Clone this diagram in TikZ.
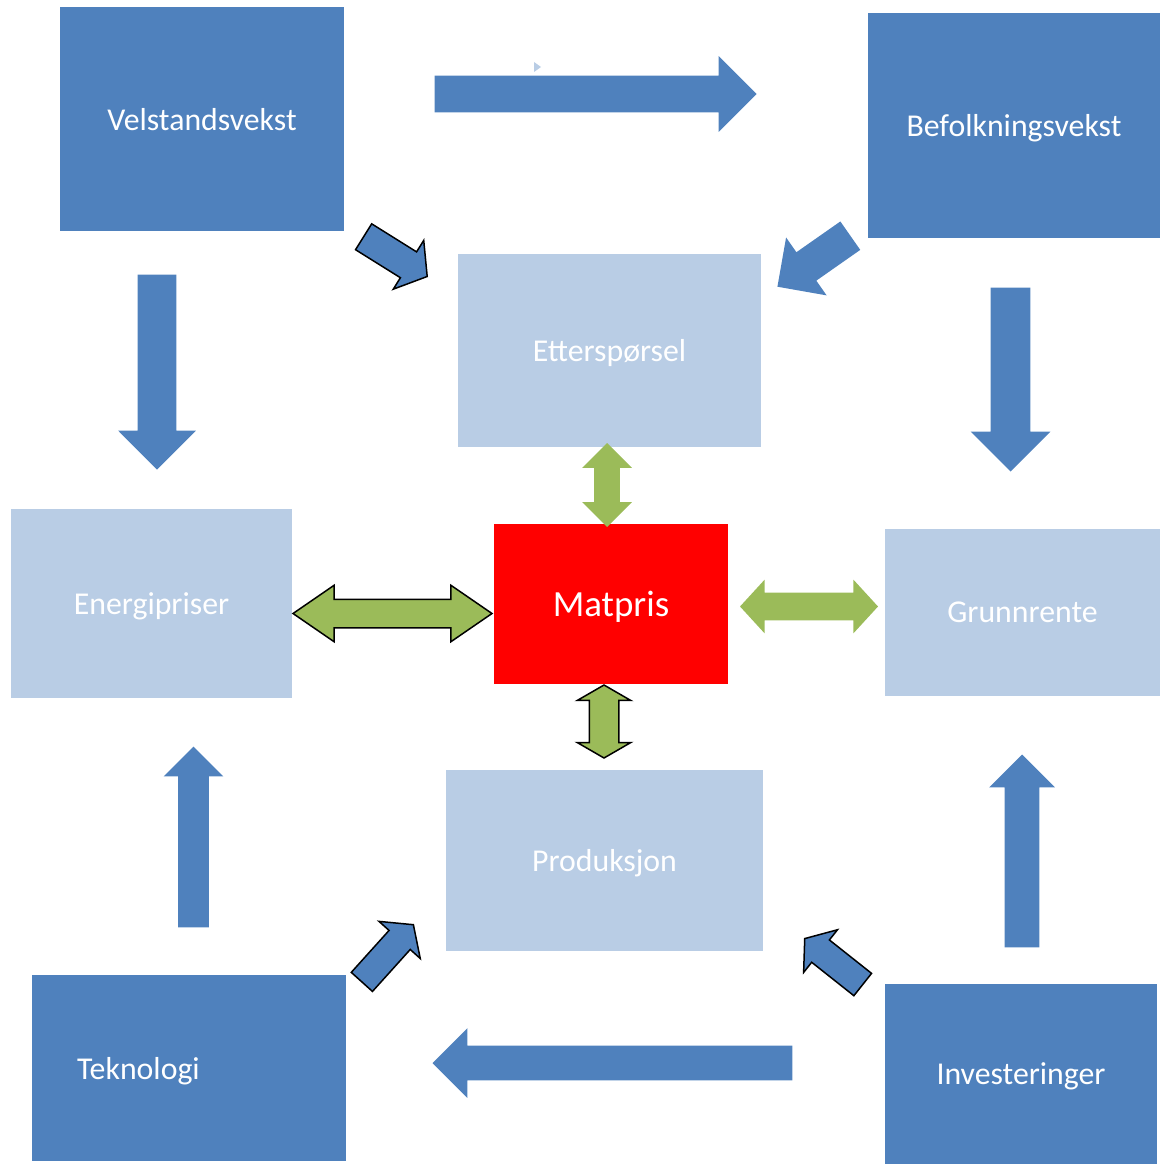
\documentclass[tikz,border=0pt]{standalone}
\usepackage{fontspec}
\setmainfont{Carlito}
\usetikzlibrary{shapes.arrows}

\definecolor{morkbla}{HTML}{4F81BD}
\definecolor{lysbla}{HTML}{B9CDE5}
\definecolor{gronn}{HTML}{9BBB59}

\tikzset{
	boks/.style={fill=#1, text=white, inner sep=0pt, text depth=0pt, font=\fontsize{18.1}{21}\selectfont},
	blapil/.style={single arrow, fill=morkbla, inner xsep=0pt, anchor=tip},
	gronnpil/.style={double arrow, fill=gronn, inner xsep=0pt},
	kant/.style={draw=black, line width=0.03cm}
}

\begin{document}
\begin{tikzpicture}[x=0.02cm, y=-0.02cm]
	\useasboundingbox (0,0) rectangle (1160,1165);
	% bokser
	\node[boks=morkbla, minimum width=5.68cm, minimum height=4.48cm] (velstand) at (202,119) {Velstandsvekst};
	\node[boks=morkbla, minimum width=5.84cm, minimum height=4.5cm] (befolkning) at (1014,125.5) {Befolkningsvekst};
	\node[boks=lysbla, minimum width=6.06cm, minimum height=3.86cm] (ettersporsel) at (609.5,350.5) {Etterspørsel};
	\node[boks=lysbla, minimum width=5.62cm, minimum height=3.78cm] (energi) at (151.5,603.5) {Energipriser};
	\node[boks=red, minimum width=4.68cm, minimum height=3.2cm, font=\fontsize{21}{25}\selectfont] (matpris) at (611,604) {Matpris};
	\node[boks=lysbla, minimum width=5.5cm, minimum height=3.34cm] (grunnrente) at (1022.5,612.5) {Grunnrente};
	\node[boks=lysbla, minimum width=6.34cm, minimum height=3.62cm] (produksjon) at (604.5,860.5) {Produksjon};
	\node[boks=morkbla, minimum height=3.72cm, text width=4.48cm, inner xsep=0.9cm, align=left] (teknologi) at (189,1068) {Teknologi};
	\node[boks=morkbla, minimum width=5.44cm, minimum height=3.6cm] (investering) at (1021,1074) {Investeringer};
	% blaa piler
	\foreach \x/\y/\r/\l/\s/\e [count=\i] in {757/94/0/6.44/0.36/0.39, 157/470/-90/3.9/0.38/0.39, 1010.5/472/-90/3.68/0.39/0.4, 193.5/746/90/3.62/0.3/0.29, 1022/754/90/3.86/0.34/0.31, 432/1063/180/7.2/0.34/0.35, 777/287/-145/1.78/0.34/0.36}
		\node[blapil, rotate=\r, minimum height=\l cm, inner ysep=\s cm, single arrow head extend=\e cm] (pil\i) at (\x,\y) {};
	\foreach \x/\y/\r/\l/\s/\e/\v [count=\i from 8] in {428/277/-32/1.5/0.29/0.27/105, 414/924/48/1.54/0.27/0.27/107, 804/938/141.6/1.48/0.27/0.26/107}
		\node[blapil, kant, rotate=\r, minimum height=\l cm, inner ysep=\s cm, single arrow head extend=\e cm, single arrow tip angle=\v] (pil\i) at (\x,\y) {};
	\fill[lysbla] (534,62) -- (541,67) -- (534,72) -- cycle;
	% groenne piler
	\node[gronnpil, rotate=90, minimum height=1.68cm, inner ysep=0.25cm, double arrow head extend=0.24cm] (opp) at (607,485) {};
	\node[gronnpil, kant, rotate=90, minimum height=1.46cm, inner ysep=0.28cm, double arrow head extend=0.24cm, double arrow tip angle=120] (ned) at (604,721.5) {};
	\node[gronnpil, kant, minimum height=3.98cm, inner ysep=0.27cm, double arrow head extend=0.28cm, double arrow tip angle=69] (venstre) at (392.5,613.5) {};
	\node[gronnpil, minimum height=2.76cm, inner ysep=0.27cm, double arrow head extend=0.26cm, double arrow tip angle=95] (hoyre) at (809,606.5) {};
\end{tikzpicture}
\end{document}
